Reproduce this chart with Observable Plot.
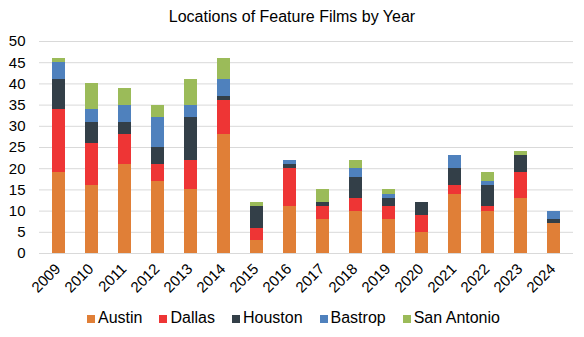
<!DOCTYPE html>
<html>
<head>
<meta charset="utf-8">
<script src="https://cdn.jsdelivr.net/npm/d3@7"></script>
<script src="https://cdn.jsdelivr.net/npm/@observablehq/plot@0.6"></script>
<style>
  html, body { margin: 0; padding: 0; background: #fff; }
  body { width: 584px; height: 337px; position: relative; overflow: hidden; font-family: "Liberation Sans", Arial, sans-serif; }
  #title { position: absolute; top: 8px; left: 0; width: 584px; text-align: center; font-size: 16px; line-height: 18px; color: #000; }
  #chart { position: absolute; top: 0; left: 0; }
  #legend { position: absolute; top: 309px; left: 87px; display: flex; align-items: center; font-size: 16px; line-height: 18px; color: #000; white-space: nowrap; }
  .item { display: flex; align-items: center; margin-right: 17px; }
  .sw { width: 8px; height: 8px; margin-right: 3px; position: relative; top: 1px; }
</style>
</head>
<body>
<div id="chart"></div>
<div id="title">Locations of Feature Films by Year</div>
<div id="legend"></div>
<script>
const years = ["2009","2010","2011","2012","2013","2014","2015","2016","2017","2018","2019","2020","2021","2022","2023","2024"];
const cities = ["Austin","Dallas","Houston","Bastrop","San Antonio"];
const austin     = [19,16,21,17,15,28,3,11,8,10,8,5,14,10,13,7];
const dallas     = [15,10,7,4,7,8,3,9,3,3,3,4,2,1,6,0];
const houston    = [7,5,3,4,10,1,5,1,1,5,2,3,4,5,4,1];
const bastrop    = [4,3,4,7,3,4,0,1,0,2,1,0,3,1,0,2];
const sanAntonio = [1,6,4,3,6,5,1,0,3,2,1,0,0,2,1,0];
const colors = ["#E07F37","#EE3535","#333F48","#4F81BD","#9BBB59"];
const yTicks = [0,5,10,15,20,25,30,35,40,45,50];

const seriesList = [austin, dallas, houston, bastrop, sanAntonio];
const data = [];
cities.forEach((c, ci) => {
  years.forEach((y, yi) => data.push({year: y, city: c, value: seriesList[ci][yi]}));
});

const chart = Plot.plot({
  width: 584,
  height: 337,
  marginTop: 41,
  marginBottom: 84,
  marginLeft: 39,
  marginRight: 11,
  style: {fontFamily: '"Liberation Sans", Arial, sans-serif', color: "#000", background: "#fff"},
  x: {domain: years, paddingInner: 0.61, paddingOuter: 0.305, label: null},
  y: {domain: [0, 50], label: null},
  color: {domain: cities, range: colors},
  marks: [
    Plot.gridY(yTicks, {stroke: "#d9d9d9", strokeOpacity: 1, strokeWidth: 1}),
    Plot.barY(data, {x: "year", y: "value", fill: "city", order: cities, shapeRendering: "crispEdges"}),
    Plot.axisY(yTicks, {tickSize: 0, tickPadding: 14, fontSize: 15, label: null}),
    Plot.axisX({tickSize: 0, tickRotate: -45, fontSize: 15, tickPadding: 13, dx: -1, label: null})
  ]
});
document.getElementById("chart").appendChild(chart);

const legend = document.getElementById("legend");
cities.forEach((c, i) => {
  const item = document.createElement("div");
  item.className = "item";
  const sw = document.createElement("div");
  sw.className = "sw";
  sw.style.background = colors[i];
  const t = document.createElement("span");
  t.textContent = c;
  item.appendChild(sw);
  item.appendChild(t);
  legend.appendChild(item);
});
</script>
</body>
</html>
